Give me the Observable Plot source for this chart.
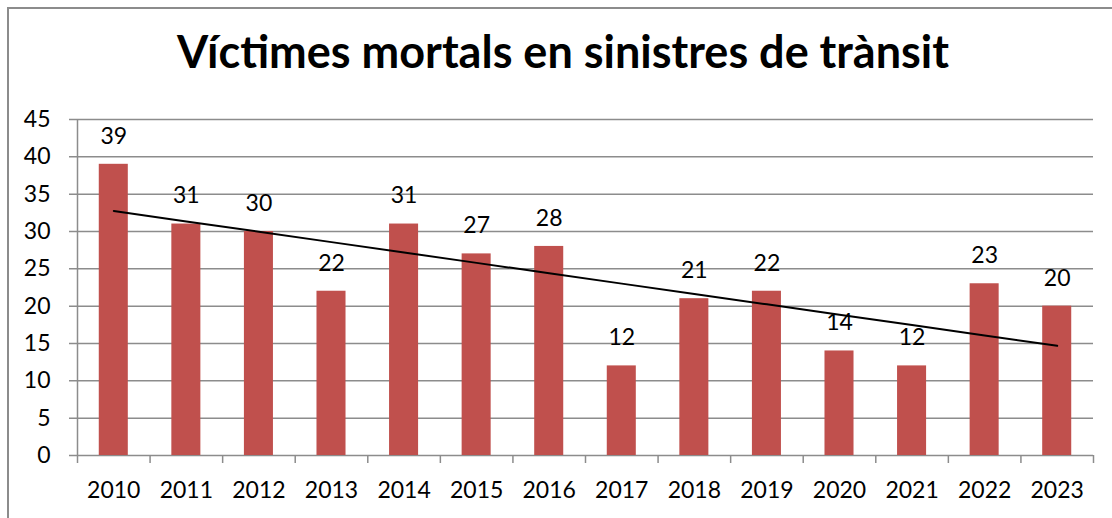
<!DOCTYPE html>
<html>
<head>
<meta charset="utf-8">
<script src="https://cdn.jsdelivr.net/npm/d3@7"></script>
<script src="https://cdn.jsdelivr.net/npm/@observablehq/plot@0.6"></script>
<style>
  html, body { margin: 0; padding: 0; background: #fff; }
  #wrap { position: relative; width: 1112px; height: 518px; overflow: hidden; }
  #border { position: absolute; left: 7px; top: 7px; width: 1120px; height: 530px; border: 2px solid #8c8c8c; box-sizing: border-box; }
  #title { position: absolute; left: 0; top: 29px; width: 1126px; text-align: center;
           font-family: Lato, sans-serif; font-weight: bold; font-size: 45px; color: #000; line-height: 1; }
  #chart { position: absolute; left: 0; top: 0; }
</style>
</head>
<body>
<div id="wrap">
  <div id="border"></div>
  <div id="title">Víctimes mortals en sinistres de trànsit</div>
  <div id="chart"></div>
</div>
<script>
const years = ["2010","2011","2012","2013","2014","2015","2016","2017","2018","2019","2020","2021","2022","2023"];
const deaths = [39, 31, 30, 22, 31, 27, 28, 12, 21, 22, 14, 12, 23, 20];
const yTicks = [0, 5, 10, 15, 20, 25, 30, 35, 40, 45];

const data = years.map((y, i) => ({year: y, value: deaths[i], i}));

// linear trendline (least squares) from the data
const mx = d3.mean(data, d => d.i), my = d3.mean(data, d => d.value);
const slope = d3.sum(data, d => (d.i - mx) * (d.value - my)) / d3.sum(data, d => (d.i - mx) ** 2);
const trend = data.map(d => ({year: d.year, value: my + slope * (d.i - mx)}));

const W = 1112, H = 518;
const mL = 77, mR = 19, mT = 119, mB = 63;
const step = (W - mL - mR) / years.length;
const font = "Lato, sans-serif";
const grid = "#8c8c8c";

const plot = Plot.plot({
  width: W, height: H,
  marginLeft: mL, marginRight: mR, marginTop: mT, marginBottom: mB,
  style: {fontFamily: font, fontSize: "23px", color: "#000", background: "transparent"},
  x: {domain: years, paddingInner: 0.6, paddingOuter: 0.3, round: false, label: null},
  y: {domain: [0, 45], label: null},
  marks: [
    Plot.ruleY(yTicks, {y: d => d, stroke: grid, strokeWidth: 1.5, insetLeft: -8}),
    Plot.ruleX([0], {x: () => years[0], dx: -step / 2, y1: 0, y2: 45, stroke: grid, strokeWidth: 1.5}),
    Plot.ruleX(years, {x: d => d, dx: -step / 2, y1: 0, y2: 0, insetBottom: -8, stroke: grid, strokeWidth: 1.5}),
    Plot.ruleX([years[years.length - 1]], {x: d => d, dx: step / 2, y1: 0, y2: 0, insetBottom: -8, stroke: grid, strokeWidth: 1.5}),
    Plot.barY(data, {x: "year", y: "value", fill: "#C0504D"}),
    Plot.line(trend, {x: "year", y: "value", stroke: "#000", strokeWidth: 2}),
    Plot.text(data, {x: "year", y: "value", text: d => String(d.value), dy: -28, fontSize: 23, fill: "#000"}),
    Plot.axisY(yTicks, {tickSize: 0, tickPadding: 27, fontSize: 23, label: null}),
    Plot.axisX({tickSize: 0, tickPadding: 26, fontSize: 23, label: null})
  ]
});
document.getElementById("chart").appendChild(plot);
</script>
</body>
</html>
